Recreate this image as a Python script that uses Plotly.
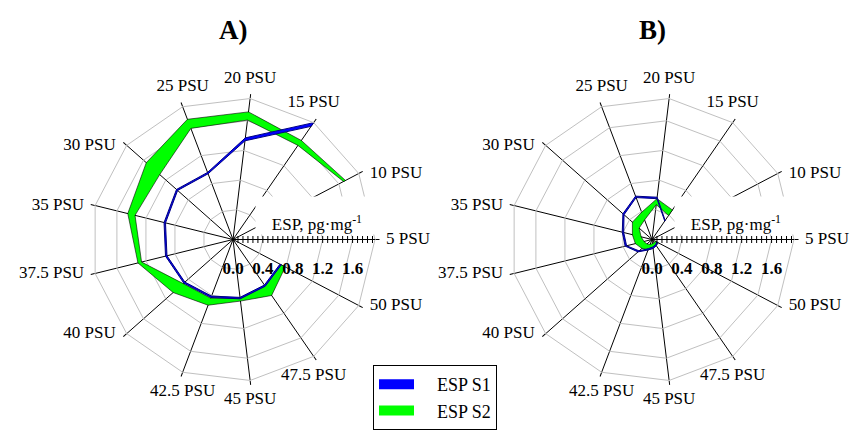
import plotly.graph_objects as go

# Salinity levels around the radar, starting at 0° and running counter-clockwise
categories = ["5 PSU", "10 PSU", "15 PSU", "20 PSU", "25 PSU", "30 PSU", "35 PSU",
              "37.5 PSU", "40 PSU", "42.5 PSU", "45 PSU", "47.5 PSU", "50 PSU"]

# Panel A: ESP, pg·mg-1 (lower / upper bound of each band); None = no sample
a_s1_low = [None, None, 1.84, 1.33, 0.94, 0.99, 0.93, 0.91, 0.86, 0.81, 0.78, 0.74, 0.71]
a_s1_high = [None, None, 1.90, 1.37, 0.96, 1.01, 0.95, 0.93, 0.88, 0.83, 0.80, 0.76, 0.73]
a_s2_low = [None, 1.67, 1.53, 1.61, 1.59, 1.31, 1.35, 1.26, 0.89, 0.84, 0.79, 0.75, 0.72]
a_s2_high = [None, 1.70, 1.61, 1.72, 1.72, 1.55, 1.45, 1.31, 1.07, 0.94, 0.83, 0.91, 0.79]

# Panel B
b_s1_low = [None, None, 0.30, 0.55, 0.60, 0.50, 0.39, 0.35, 0.23, 0.13, 0.10, 0.085, 0.07]
b_s1_high = [None, None, 0.31, 0.57, 0.62, 0.52, 0.41, 0.37, 0.25, 0.15, 0.12, 0.10, 0.085]
b_s2_low = [None, None, 0.39, 0.47, 0.28, 0.23, 0.15, 0.11, 0.09, 0.07, 0.055, 0.05, 0.05]
b_s2_high = [None, None, 0.48, 0.55, 0.39, 0.35, 0.27, 0.23, 0.18, 0.15, 0.12, 0.10, 0.095]

series_names = ["ESP S1", "ESP S2"]
series_colors = ["#0000ff", "#00ff00"]
panel_titles = ["A)", "B)"]
axis_title = "ESP, pg·mg<sup>-1</sup>"
r_max = 1.9
grid_vals = [0.4, 0.8, 1.2, 1.6]
label_vals = [0.0, 0.4, 0.8, 1.2, 1.6]
label_text = ["0.0", "0.4", "0.8", "1.2", "1.6"]
minor_vals = [k * 0.4 / 6 for k in range(1, 29)]

# where each category label sits relative to the end of its spoke
label_pos = ["middle right", "middle right", "top center", "top center", "top center",
             "middle left", "middle left", "middle left", "middle left",
             "bottom center", "bottom center", "bottom center", "middle right"]

SERIF = "Liberation Serif"
W, H = 851, 434
R_PX = 142
CY = 239.5
centers = [233, 652]


def band(low, high):
    """Closed polygon running out along the upper bound and back along the lower one."""
    idx = [i for i, v in enumerate(high) if v is not None]
    theta = [categories[i] for i in idx] + [categories[i] for i in reversed(idx)]
    r = [high[i] for i in idx] + [low[i] for i in reversed(idx)]
    return theta + theta[:1], r + r[:1]


def domain(cx):
    return dict(x=[(cx - R_PX) / W, (cx + R_PX) / W],
                y=[(H - CY - R_PX) / H, (H - CY + R_PX) / H])


def main_polar(cx):
    return dict(
        domain=domain(cx), bgcolor="rgba(0,0,0,0)", gridshape="linear",
        angularaxis=dict(type="category", categoryarray=categories, rotation=0,
                         direction="counterclockwise", showgrid=True, gridcolor="black",
                         gridwidth=1, showline=True, linecolor="#c0c0c0", linewidth=1,
                         ticks="outside", ticklen=4, tickcolor="black",
                         showticklabels=False),
        radialaxis=dict(range=[0, r_max], angle=0, tickvals=grid_vals, ticks="",
                        showticklabels=False, showgrid=True, gridcolor="#c0c0c0",
                        gridwidth=1, showline=True, linecolor="black", linewidth=1),
    )


def overlay_polar(cx, **radial):
    base = dict(range=[0, r_max], angle=0, showgrid=False, showline=False,
                side="clockwise")
    base.update(radial)
    return dict(domain=domain(cx), bgcolor="rgba(0,0,0,0)", gridshape="linear",
                angularaxis=dict(visible=False, type="category",
                                 categoryarray=categories, rotation=0,
                                 direction="counterclockwise"),
                radialaxis=base)


fig = go.Figure()

panels = [
    (a_s1_low, a_s1_high, a_s2_low, a_s2_high),
    (b_s1_low, b_s1_high, b_s2_low, b_s2_high),
]
outlines = [dict(color="#000080", width=1), dict(color="#000000", width=0.6)]

layout_polars = {}
for p, (s1l, s1h, s2l, s2h) in enumerate(panels):
    base = 4 * p
    names = ["polar" if base == 0 else f"polar{base + 1}",
             f"polar{base + 2}", f"polar{base + 3}", f"polar{base + 4}"]
    cx = centers[p]
    layout_polars[names[0]] = main_polar(cx)
    layout_polars[names[1]] = overlay_polar(cx, tickvals=minor_vals, ticks="outside",
                                            ticklen=3, tickcolor="black",
                                            showticklabels=False)
    layout_polars[names[2]] = overlay_polar(cx, tickvals=minor_vals, ticks="inside",
                                            ticklen=3, tickcolor="black",
                                            showticklabels=False)
    layout_polars[names[3]] = overlay_polar(cx, tickvals=label_vals, ticktext=label_text,
                                            ticks="outside", ticklen=14,
                                            tickcolor="rgba(0,0,0,0)",
                                            tickfont=dict(family=SERIF, size=17,
                                                          color="black", weight="bold"))
    # green band below, blue band on top
    for k, (lo, hi) in [(1, (s2l, s2h)), (0, (s1l, s1h))]:
        th, rr = band(lo, hi)
        fig.add_trace(go.Scatterpolar(
            r=rr, theta=th, mode="lines", fill="toself", subplot=names[0],
            fillcolor=series_colors[k], line=outlines[k],
            legendgroup=series_names[k], showlegend=False, hoverinfo="skip"))
    # category labels at the end of each spoke (a clear marker keeps them off the tip)
    fig.add_trace(go.Scatterpolar(
        r=[r_max] * len(categories), theta=categories, text=categories,
        mode="markers+text", textposition=label_pos, cliponaxis=False,
        subplot=names[0], marker=dict(size=16, color="rgba(0,0,0,0)"),
        textfont=dict(family=SERIF, size=17, color="black"),
        showlegend=False, hoverinfo="skip"))
    for extra in names[1:]:
        fig.add_trace(go.Scatterpolar(r=[], theta=[], subplot=extra, showlegend=False,
                                      hoverinfo="skip"))

# legend entries: solid swatches in the series colours
for k in range(2):
    fig.add_trace(go.Scatterpolar(
        r=[None], theta=[None], mode="lines", subplot="polar",
        name="\u2003" + series_names[k], legendgroup=series_names[k],
        line=dict(color=series_colors[k], width=11), legendrank=k + 1))

annotations = []
for p, cx in enumerate(centers):
    annotations.append(dict(text=f"<b>{panel_titles[p]}</b>", x=cx / W, y=(H - 30) / H,
                            xref="paper", yref="paper", xanchor="center",
                            yanchor="middle", showarrow=False,
                            font=dict(family=SERIF, size=27, color="black")))
    annotations.append(dict(text=axis_title, x=(cx + 84) / W, y=(H - 215.5) / H,
                            xref="paper", yref="paper", xanchor="center",
                            yanchor="middle", showarrow=False,
                            width=122, height=37, bgcolor="white", borderpad=0,
                            valign="bottom",
                            font=dict(family=SERIF, size=17, color="black")))

fig.update_layout(
    width=W, height=H, margin=dict(l=0, r=0, t=0, b=0),
    paper_bgcolor="white", plot_bgcolor="white",
    font=dict(family=SERIF, color="black"),
    annotations=annotations,
    legend=dict(x=373 / W, y=(H - 365) / H, xanchor="left", yanchor="top",
                bordercolor="black", borderwidth=1, bgcolor="white",
                font=dict(family=SERIF, size=18, color="black"), itemwidth=35,
                traceorder="normal"),
    **layout_polars,
)

fig.write_html("out.html")
